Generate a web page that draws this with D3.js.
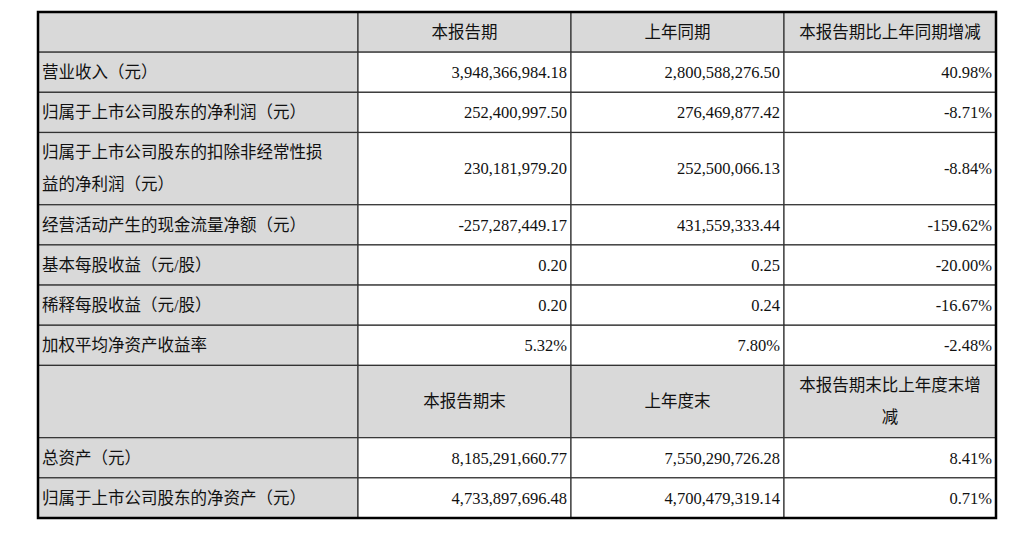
<!DOCTYPE html>
<html><head><meta charset="utf-8">
<script src="https://cdn.jsdelivr.net/npm/d3@7"></script>
<style>body{margin:0;background:#fff}</style>
</head><body>
<svg id="tbl" width="1035" height="538"></svg>
<script>
// Table content
const header1 = ["", "本报告期", "上年同期", "本报告期比上年同期增减"];
const rowLabels1 = [
  ["营业收入（元）"],
  ["归属于上市公司股东的净利润（元）"],
  ["归属于上市公司股东的扣除非经常性损", "益的净利润（元）"],
  ["经营活动产生的现金流量净额（元）"],
  ["基本每股收益（元/股）"],
  ["稀释每股收益（元/股）"],
  ["加权平均净资产收益率"]
];
const current1 = ["3,948,366,984.18", "252,400,997.50", "230,181,979.20", "-257,287,449.17", "0.20", "0.20", "5.32%"];
const previous1 = ["2,800,588,276.50", "276,469,877.42", "252,500,066.13", "431,559,333.44", "0.25", "0.24", "7.80%"];
const change1 = ["40.98%", "-8.71%", "-8.84%", "-159.62%", "-20.00%", "-16.67%", "-2.48%"];
const header2 = ["", "本报告期末", "上年度末", ["本报告期末比上年度末增", "减"]];
const rowLabels2 = [["总资产（元）"], ["归属于上市公司股东的净资产（元）"]];
const current2 = ["8,185,291,660.77", "4,733,897,696.48"];
const previous2 = ["7,550,290,726.28", "4,700,479,319.14"];
const change2 = ["8.41%", "0.71%"];

const colEdges = [38, 358, 571, 784, 996];
const tableTop = 12, tableBottom = 518;

// build rows
const rows = [];
rows.push({header: true, cells: header1.map(t => [t].flat()), lines: 1});
rowLabels1.forEach((l, i) => rows.push({cells: [l, [current1[i]], [previous1[i]], [change1[i]]], lines: l.length}));
rows.push({header: true, cells: header2.map(t => [t].flat()), lines: 2});
rowLabels2.forEach((l, i) => rows.push({cells: [l, [current2[i]], [previous2[i]], [change2[i]]], lines: l.length}));

// row height units: 1 line = 40, each extra line = 32
const units = rows.map(r => 40 + (r.lines - 1) * 32);
const totalUnits = d3.sum(units);
const yScale = d3.scaleLinear().domain([0, totalUnits]).range([tableTop, tableBottom]);
let acc = 0;
rows.forEach((r, i) => { r.y0 = yScale(acc); acc += units[i]; r.y1 = yScale(acc); });

const svg = d3.select("#tbl");
const font = "'Liberation Serif','Noto Sans CJK SC',serif";
const grey = "#d9d9d9";

rows.forEach(r => {
  r.cells.forEach((lines, c) => {
    const x0 = colEdges[c], x1 = colEdges[c + 1];
    const fill = (r.header || c === 0) ? grey : "#fff";
    svg.append("rect").attr("x", x0).attr("y", r.y0).attr("width", x1 - x0).attr("height", r.y1 - r.y0)
      .attr("fill", fill).attr("stroke", "#333").attr("stroke-width", 1.2);
    const align = r.header ? "middle" : (c === 0 ? "start" : "end");
    const tx = align === "middle" ? (x0 + x1) / 2 : align === "start" ? x0 + 4 : x1 - 4;
    const lh = 32;
    const mid = (r.y0 + r.y1) / 2;
    lines.forEach((t, k) => {
      svg.append("text")
        .attr("x", tx)
        .attr("y", mid + (k - (lines.length - 1) / 2) * lh)
        .attr("dy", "0.35em")
        .attr("text-anchor", align)
        .style("font-family", font)
        .style("font-size", "16.5px")
        .style("fill", "#111")
        .text(t);
    });
  });
});

// thick outer border
svg.append("rect").attr("x", colEdges[0]).attr("y", tableTop)
  .attr("width", colEdges[4] - colEdges[0]).attr("height", tableBottom - tableTop)
  .attr("fill", "none").attr("stroke", "#000").attr("stroke-width", 2.5);
</script>
</body></html>
